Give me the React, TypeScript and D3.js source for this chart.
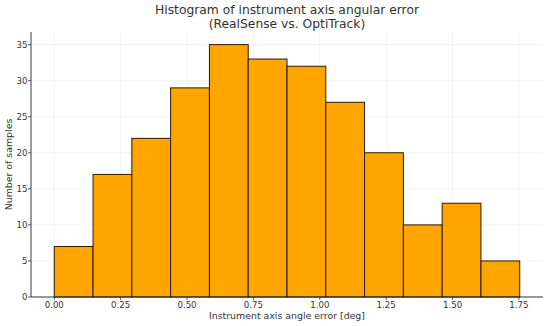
import React from 'react';
import * as d3 from 'd3';

// Histogram counts (12 equal bins)
const counts = [7, 17, 22, 29, 35, 33, 32, 27, 20, 10, 13, 5];
const binRange = [0.0, 1.753];
const xTicks = [0, 0.25, 0.5, 0.75, 1.0, 1.25, 1.5, 1.75];
const yTicks = [0, 5, 10, 15, 20, 25, 30, 35];
const titleLines = ['Histogram of instrument axis angular error', '(RealSense vs. OptiTrack)'];
const xLabel = 'Instrument axis angle error [deg]';
const yLabel = 'Number of samples';

const W = 550;
const H = 326;
const left = 31;
const right = 543;
const top = 32;
const bottom = 297;
const font = 'DejaVu Sans, sans-serif';

const App = () => {
  const n = counts.length;
  const step = (binRange[1] - binRange[0]) / n;
  const bins = counts.map((c, i) => ({ x0: binRange[0] + i * step, x1: binRange[0] + (i + 1) * step, c }));

  // matplotlib-like 5% margin on x, sticky zero on y
  const span = binRange[1] - binRange[0];
  const x = d3.scaleLinear()
    .domain([binRange[0] - span * 0.05, binRange[1] + span * 0.05])
    .range([left, right]);
  const yMax = (d3.max(counts) as number) * 1.05;
  const y = d3.scaleLinear().domain([0, yMax]).range([bottom, top]);
  const cx = (left + right) / 2;

  return (
    <div style={{ position: 'absolute', left: 0, top: 0 }}>
      <svg width={W} height={H} style={{ display: 'block', background: '#fff' }}>
        {/* grid */}
        <g stroke="#b0b0b0" strokeOpacity={0.2} strokeWidth={0.8}>
          {xTicks.map(t => (
            <line key={'gx' + t} x1={x(t)} x2={x(t)} y1={top} y2={bottom} />
          ))}
          {yTicks.map(t => (
            <line key={'gy' + t} x1={left} x2={right} y1={y(t)} y2={y(t)} />
          ))}
        </g>

        {/* bars */}
        <g>
          {bins.map((b, i) => (
            <rect
              key={i}
              x={x(b.x0)}
              y={y(b.c)}
              width={x(b.x1) - x(b.x0)}
              height={y(0) - y(b.c)}
              fill="#ffa500"
              stroke="#2a1a00"
              strokeWidth={1}
            />
          ))}
        </g>

        {/* spines */}
        <line x1={left} x2={left} y1={top} y2={bottom} stroke="#222" strokeWidth={0.9} />
        <line x1={left} x2={right} y1={bottom} y2={bottom} stroke="#222" strokeWidth={0.9} />

        {/* ticks */}
        <g fontFamily={font} fontSize={8.6} fill="#333">
          {xTicks.map(t => (
            <g key={'tx' + t}>
              <line x1={x(t)} x2={x(t)} y1={bottom} y2={bottom + 3} stroke="#333" strokeWidth={0.8} />
              <text x={x(t)} y={307.5} textAnchor="middle">{t.toFixed(2)}</text>
            </g>
          ))}
          {yTicks.map(t => (
            <g key={'ty' + t}>
              <line x1={left - 3} x2={left} y1={y(t)} y2={y(t)} stroke="#333" strokeWidth={0.8} />
              <text x={27.5} y={y(t)} dy="0.36em" textAnchor="end">{t}</text>
            </g>
          ))}
        </g>

        {/* axis labels */}
        <text x={cx} y={319} textAnchor="middle" fontFamily={font} fontSize={9.4} fill="#333">
          {xLabel}
        </text>
        <text
          transform={`translate(12, ${(top + bottom) / 2}) rotate(-90)`}
          textAnchor="middle"
          fontFamily={font}
          fontSize={9.4}
          fill="#333"
        >
          {yLabel}
        </text>

        {/* title */}
        <g fontFamily={font} fontSize={12.3} fill="#333" textAnchor="middle">
          <text x={cx} y={14}>{titleLines[0]}</text>
          <text x={cx} y={28}>{titleLines[1]}</text>
        </g>
      </svg>
    </div>
  );
};

export default App;
